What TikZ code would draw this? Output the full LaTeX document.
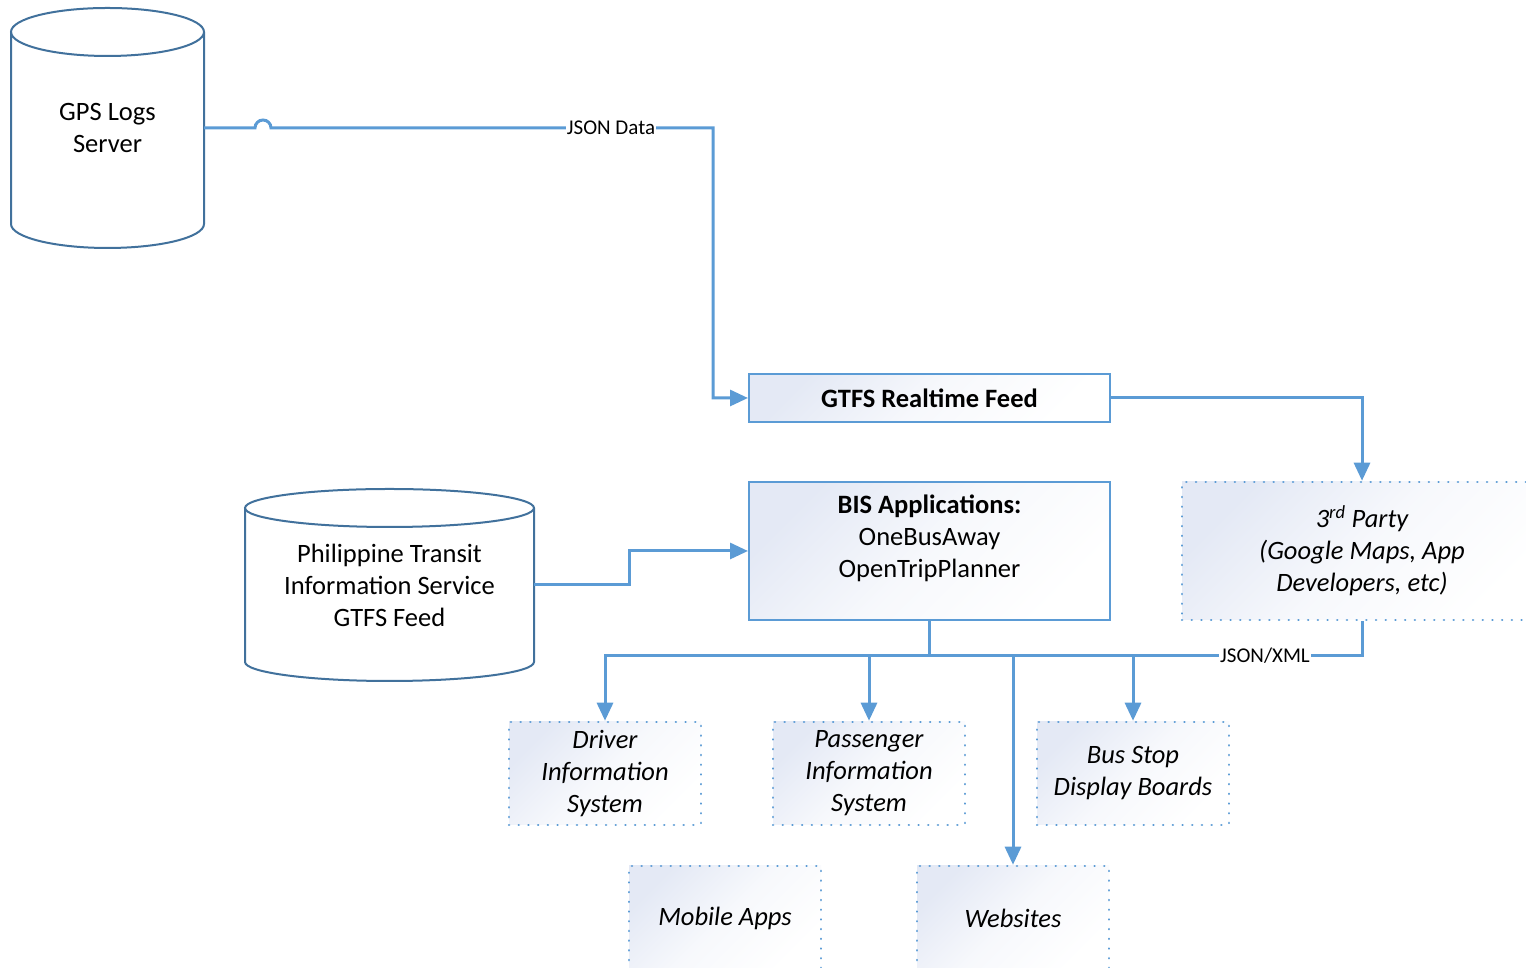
\documentclass[tikz,border=0pt]{standalone}
\usepackage{fontspec}
\setmainfont{Carlito}
\usetikzlibrary{arrows.meta}
\definecolor{lineblue}{HTML}{5B9BD5}
\definecolor{cylblue}{HTML}{41719C}
\definecolor{grad}{HTML}{E4E9F5}
\tikzset{
  x=1pt,y=1pt,
  conn/.style={draw=lineblue,line width=3pt,-{Triangle[length=18pt,width=16pt]}},
  cyl/.style={draw=cylblue,line width=2pt},
  solidbox/.style={draw=lineblue,line width=2pt,top color=grad,bottom color=white,middle color=white!70!grad,shading angle=45,
    minimum width=361pt,align=center,inner sep=0pt},
  dotbox/.style={draw=lineblue,line width=2.5pt,dash pattern=on 0.1pt off 9.6pt,line cap=round,
    top color=grad,bottom color=white,middle color=white!70!grad,shading angle=45,align=center,inner sep=0pt,
    font=\fontsize{26.5}{32}\selectfont\itshape},
  txt/.style={align=center,font=\fontsize{26.5}{32}\selectfont},
  lab/.style={fill=white,inner sep=1pt,font=\fontsize{21}{24}\selectfont}
}
\begin{document}
\begin{tikzpicture}
\useasboundingbox (0,0) rectangle (1526,968);
% GPS cylinder
\draw[cyl,fill=white] (11,936) -- (11,744) arc[start angle=180,end angle=360,x radius=96.5,y radius=24] -- (204,936);
\draw[cyl] (107.5,936) ellipse [x radius=96.5,y radius=24];
\node[txt] (gps) at (107.5,840) {GPS Logs\\Server};
\coordinate (gpsR) at (204,840);
% PTIS cylinder
\draw[cyl,fill=white] (245,460) -- (245,306) arc[start angle=180,end angle=360,x radius=144.5,y radius=19] -- (534,460);
\draw[cyl] (389.5,460) ellipse [x radius=144.5,y radius=19];
\node[txt] (ptis) at (389.5,383) {Philippine Transit\\Information Service\\GTFS Feed};
\coordinate (ptisR) at (534,383);
% boxes
\node[solidbox,minimum height=48pt,font=\fontsize{26.5}{32}\selectfont\bfseries] (gtfs) at (929.5,570) {GTFS Realtime Feed};
\node[solidbox,minimum height=138pt] (bis) at (929.5,417) {};
\node[txt,anchor=north] (bistxt) at (929.5,477) {\textbf{BIS Applications:}\\OneBusAway\\OpenTripPlanner};
\node[dotbox,minimum width=360pt,minimum height=138pt] (third) at (1362,417) {3\textsuperscript{rd} Party\\(Google Maps, App\\Developers, etc)};
\node[dotbox,minimum width=192pt,minimum height=103pt] (driver) at (605,194.5) {Driver\\Information\\System};
\node[dotbox,minimum width=192pt,minimum height=103pt] (pass) at (869,194.5) {Passenger\\Information\\System};
\node[dotbox,minimum width=192pt,minimum height=103pt] (bus) at (1133,194.5) {Bus Stop\\Display Boards};
\node[dotbox,minimum width=192pt,minimum height=104pt] (mobile) at (725,50) {Mobile Apps};
\node[dotbox,minimum width=192pt,minimum height=104pt] (web) at (1013,50) {Websites};
% connectors
\draw[conn] (gpsR) -- (255,840) arc[start angle=180,end angle=0,radius=8] -- (713,840) -- (713,570) -- (gtfs.west);
\node[lab] (jsonlab) at (611,840) {JSON Data};
\draw[conn] (gtfs.east) -| (third.north);
\draw[conn] (ptisR) -- (629,383) |- (bis.west);
\coordinate (j) at (929.5,312);
\draw[conn] (bis.south) -- (j) -| (driver.north);
\draw[conn] (bis.south) -- (j) -| (pass.north);
\draw[conn] (bis.south) -- (j) -| (bus.north);
\draw[conn] (third.south) |- (1133,312) -- (1013,312) -- (web.north);
\node[lab] (xmllab) at (1265,312) {JSON/XML};
\end{tikzpicture}
\end{document}
